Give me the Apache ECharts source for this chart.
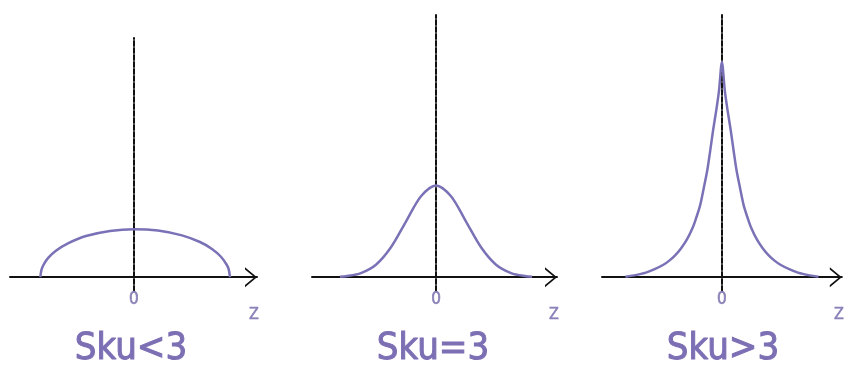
<!DOCTYPE html>
<html>
<head>
<meta charset="utf-8">
<script src="https://cdn.jsdelivr.net/npm/echarts@6/dist/echarts.min.js"></script>
<style>
  html, body { margin: 0; padding: 0; background: #fff; }
  #chart { width: 847px; height: 365px; }
</style>
</head>
<body>
<div id="chart"></div>
<script>
// panel titles
const titles = ["Sku<3", "Sku=3", "Sku>3"];

// Sku<3 : flat, wide curve
const flatX = [-3.12, -3.08, -3.0, -2.85, -2.6, -2.2, -1.6, -0.8, 0, 0.8, 1.6, 2.2, 2.6, 2.9, 3.1, 3.16, 3.2];
const flatY = [0, 0.033, 0.057, 0.085, 0.115, 0.147, 0.179, 0.201, 0.209, 0.203, 0.182, 0.153, 0.123, 0.089, 0.052, 0.033, 0];

// Sku=3 : bell curve
const normalX = [-3.2, -3, -2.5, -2, -1.5, -1, -0.5, 0, 0.5, 1, 1.5, 2, 2.5, 3, 3.2];
const normalY = [0.002, 0.004, 0.018, 0.054, 0.13, 0.242, 0.352, 0.399, 0.352, 0.242, 0.13, 0.054, 0.018, 0.004, 0.002];

// Sku>3 : peaked curve
const peakX = [-3.3, -3, -2.6, -2.3, -2, -1.8, -1.6, -1.4, -1.2, -1, -0.9, -0.75, -0.625, -0.5, -0.4, -0.3, -0.2, -0.1, 0,
               0.1, 0.2, 0.3, 0.4, 0.5, 0.625, 0.75, 0.9, 1, 1.2, 1.4, 1.6, 1.8, 2, 2.3, 2.6, 3, 3.3];
const peakY = [0.002, 0.008, 0.02, 0.035, 0.054, 0.072, 0.095, 0.125, 0.163, 0.215, 0.25, 0.31, 0.385, 0.465, 0.55, 0.64, 0.72, 0.81, 0.935,
               0.81, 0.72, 0.64, 0.55, 0.465, 0.385, 0.31, 0.25, 0.215, 0.163, 0.125, 0.095, 0.072, 0.054, 0.035, 0.02, 0.008, 0.002];

// axis ranges
const xRanges = [[-4.13, 4.1], [-4.13, 4.03], [-4.1, 4.1]];
const yRanges = [[-0.06, 1.04], [-0.06, 1.14], [-0.06, 1.14]];
const xTickLabels = [0];
const xName = "Z";

const curveColor = "#7a72b6";
const textColor = "#7d6fb4";
const labelColor = "#8a82b8";
const condensed = "'DejaVu Sans Condensed', 'Liberation Sans Narrow', sans-serif";

const grids = [
  { left: 10, width: 247, top: 38, height: 253 },
  { left: 312, width: 245, top: 15, height: 276 },
  { left: 602, width: 246, top: 15, height: 276 }
];
const titleCenters = [131, 433, 723];
const curves = [[flatX, flatY], [normalX, normalY], [peakX, peakY]];

const chart = echarts.init(document.getElementById("chart"));

chart.setOption({
  animation: false,
  title: titles.map((t, i) => ({
    text: t,
    left: titleCenters[i],
    top: 330,
    textAlign: "center",
    padding: 0,
    textStyle: {
      fontSize: 38,
      fontWeight: "normal",
      fontFamily: condensed,
      color: textColor,
      textBorderColor: textColor,
      textBorderWidth: 1
    }
  })),
  grid: grids.map(g => Object.assign({ containLabel: false }, g)),
  xAxis: grids.map((g, i) => ({
    type: "value",
    gridIndex: i,
    min: xRanges[i][0],
    max: xRanges[i][1],
    name: xName,
    nameLocation: "end",
    nameGap: -3,
    nameTextStyle: {
      color: labelColor,
      fontSize: 16,
      fontFamily: condensed,
      align: "center",
      verticalAlign: "top",
      padding: [30, 0, 0, 0],
      textBorderColor: labelColor,
      textBorderWidth: 0.5
    },
    axisLine: {
      onZero: true,
      symbol: ["none", "path://M0,12 L10,0 L20,12 L17.8,12 L10,2.6 L2.2,12 Z"],
      symbolSize: [20, 12],
      symbolOffset: [0, -6],
      lineStyle: { color: "#111", width: 2 }
    },
    axisTick: { show: false },
    splitLine: { show: false },
    axisLabel: {
      customValues: xTickLabels,
      margin: 0,
      color: labelColor,
      fontSize: 17,
      fontFamily: condensed,
      textBorderColor: labelColor,
      textBorderWidth: 0.6
    }
  })),
  yAxis: grids.map((g, i) => ({
    type: "value",
    gridIndex: i,
    min: yRanges[i][0],
    max: yRanges[i][1],
    axisLine: {
      show: true,
      onZero: true,
      lineStyle: { color: "#111", width: 2, type: [5, 2] }
    },
    axisTick: { show: false },
    axisLabel: { show: false },
    splitLine: { show: false }
  })),
  series: curves.map((c, i) => ({
    type: "line",
    xAxisIndex: i,
    yAxisIndex: i,
    data: c[0].map((x, k) => [x, c[1][k]]),
    smooth: 0.3,
    symbol: "none",
    z: 1,
    lineStyle: { color: curveColor, width: 2.5 }
  }))
});
</script>
</body>
</html>
